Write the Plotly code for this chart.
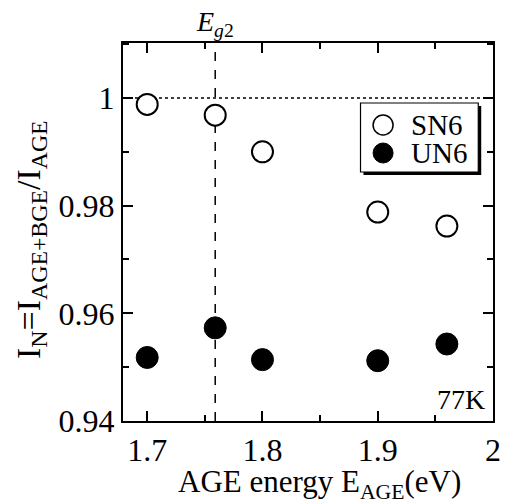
import plotly.graph_objects as go

energy = [1.70, 1.759, 1.80, 1.90, 1.96]
sn6 = [0.9988, 0.9968, 0.9900, 0.9788, 0.9762]
un6 = [0.9518, 0.9573, 0.9514, 0.9512, 0.9543]
eg2 = 1.759
series_names = ["SN6", "UN6"]

x_ticks = [1.7, 1.8, 1.9, 2.0]
x_ticktext = ["1.7", "1.8", "1.9", "2"]
y_ticks = [0.94, 0.96, 0.98, 1.0]
y_ticktext = ["0.94", "0.96", "0.98", "1"]

FONT = "Liberation Serif"

# plot area in pixels
L, T, W, H = 123, 43, 377, 378


def px(xp):
    return (xp - L) / W


def py(yp):
    return (T + H - yp) / H


fig = go.Figure()
fig.add_trace(go.Scatter(
    x=energy, y=sn6, mode="markers", name=series_names[0], showlegend=False,
    marker=dict(symbol="circle", size=21, color="white",
                line=dict(color="black", width=2)),
))
fig.add_trace(go.Scatter(
    x=energy, y=un6, mode="markers", name=series_names[1], showlegend=False,
    marker=dict(symbol="circle", size=22, color="black",
                line=dict(color="black", width=1)),
))

# reference lines
fig.add_shape(type="line", xref="x", yref="paper", x0=eg2, x1=eg2, y0=0, y1=1,
              line=dict(color="black", width=1.5, dash="dash"), layer="below")
fig.add_shape(type="line", xref="paper", yref="y", x0=0, x1=1, y0=1.0, y1=1.0,
              line=dict(color="black", width=1.5, dash="dot"), layer="below")

# legend box with shadow
fig.add_shape(type="rect", xref="paper", yref="paper",
              x0=px(368), x1=px(488), y0=py(175), y1=py(106),
              fillcolor="black", line=dict(width=0), layer="above")
fig.add_shape(type="rect", xref="paper", yref="paper",
              x0=px(365), x1=px(485), y0=py(172), y1=py(103),
              fillcolor="white", line=dict(color="black", width=1.2), layer="above")
# legend symbols
fig.add_shape(type="circle", xref="paper", yref="paper", xsizemode="pixel", ysizemode="pixel",
              xanchor=px(388), yanchor=py(125), x0=-10, x1=10, y0=-10, y1=10,
              fillcolor="white", line=dict(color="black", width=1.5), layer="above")
fig.add_shape(type="circle", xref="paper", yref="paper", xsizemode="pixel", ysizemode="pixel",
              xanchor=px(388), yanchor=py(153), x0=-10, x1=10, y0=-10, y1=10,
              fillcolor="black", line=dict(color="black", width=1), layer="above")
for name, yc in zip(series_names, [125, 153]):
    fig.add_annotation(xref="paper", yref="paper", x=px(414), y=py(yc),
                       xanchor="left", yanchor="middle", text=name, showarrow=False,
                       font=dict(family=FONT, size=29, color="black"))

axis_common = dict(
    showgrid=False, zeroline=False, showline=True, linecolor="black", linewidth=2,
    mirror="ticks", ticks="inside", ticklen=10, tickwidth=2, tickcolor="black",
    tickfont=dict(family=FONT, size=32, color="black"),
)

fig.update_xaxes(range=[1.679, 2.0], tickvals=x_ticks, ticktext=x_ticktext,
                 minor=dict(dtick=0.05, tick0=1.7, ticks="inside", ticklen=6,
                            tickwidth=2, tickcolor="black"),
                 ticklabelstandoff=0,
                 **axis_common)
fig.update_yaxes(range=[0.94, 1.0102], tickvals=y_ticks, ticktext=y_ticktext,
                 minor=dict(dtick=0.01, tick0=0.94, ticks="inside", ticklen=6,
                            tickwidth=2, tickcolor="black"),
                 **axis_common)

fig.add_annotation(xref="paper", yref="paper", x=0.5, y=0,
                   text="AGE energy E<sub>AGE</sub>(eV)", showarrow=False,
                   xanchor="center", yanchor="top", xshift=11, yshift=-41,
                   font=dict(family=FONT, size=31, color="black"))
fig.add_annotation(xref="paper", yref="paper", x=0, y=0.5,
                   text="I<sub>N</sub>=I<sub>AGE+BGE</sub>/I<sub>AGE</sub>",
                   showarrow=False, textangle=-90, xanchor="center", yanchor="middle",
                   xshift=-92, yshift=-8,
                   font=dict(family=FONT, size=34, color="black"))
fig.add_annotation(xref="x", yref="paper", x=eg2, y=1, yanchor="bottom",
                   text="<i>E</i><sub><i>g</i>2</sub>", showarrow=False, yshift=0,
                   font=dict(family=FONT, size=28, color="black"))
fig.add_annotation(xref="paper", yref="paper", x=0.985, y=0.01,
                   xanchor="right", yanchor="bottom", text="77K", showarrow=False,
                   font=dict(family=FONT, size=28, color="black"))

fig.update_layout(
    width=513, height=501,
    margin=dict(l=L, r=513 - L - W, t=T, b=501 - T - H),
    paper_bgcolor="white", plot_bgcolor="white",
    showlegend=False,
    font=dict(family=FONT, color="black"),
)

fig.write_html("out.html")
